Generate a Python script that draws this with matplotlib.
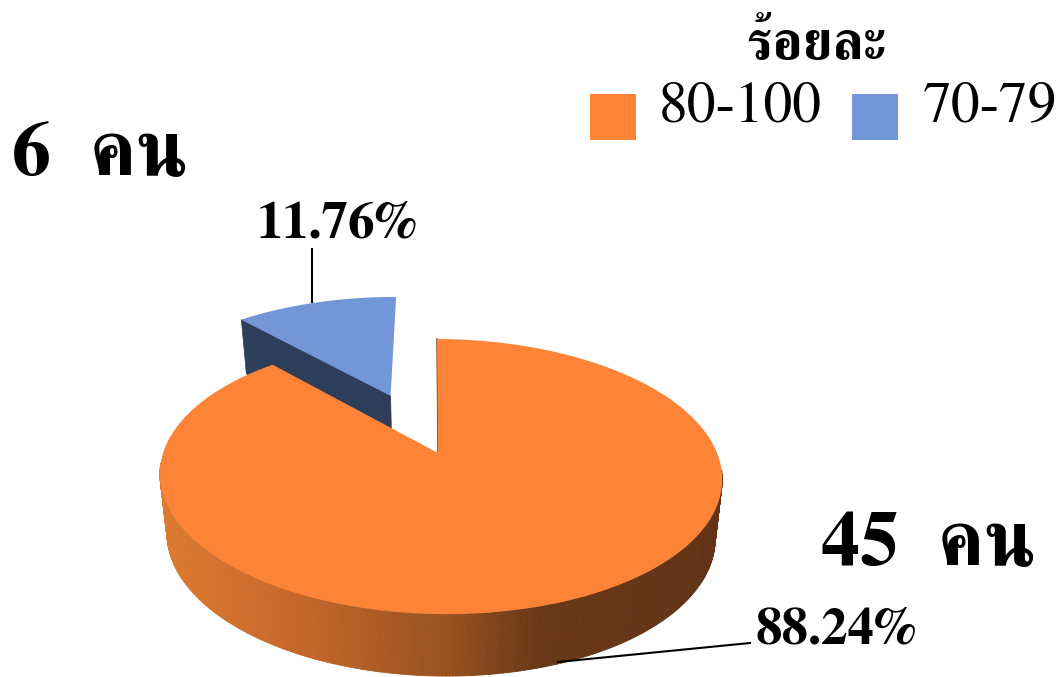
import numpy as np
import matplotlib
matplotlib.use("Agg")
import matplotlib.pyplot as plt
from matplotlib.colors import LinearSegmentedColormap

# ---- data ----
legend_title = "ร้อยละ"
categories = ["80-100", "70-79"]
counts = [45, 6]
percents = [88.24, 11.76]
count_unit = "คน"
colors_top = ["#FD8436", "#7396D8"]
wall_blue = "#2E3D5A"

serif = "FreeSerif"


def project(u, v):
    """Perspective map of the unit disc (u right, v away) to image pixels."""
    w = 1 + 0.171 * v - 0.01 * u
    x = 438 + (277 * u - 1.17 * v) / w
    y = 453 + (2 * u - 133.5 * v) / w
    return x, y


def extrude(x, y, v):
    """Lower rim of the disc for the upper rim points."""
    return 438 + (x - 441) * 0.975 + 3, y + 58.4 - 3.6 * v


fig = plt.figure(figsize=(10.6, 6.77), dpi=100)
ax = fig.add_axes([0, 0, 1, 1])
ax.set_xlim(0, 1060)
ax.set_ylim(677, 0)
ax.axis("off")

wall_cmap = LinearSegmentedColormap.from_list(
    "wall", [(0.0, "#DC7A30"), (0.25, "#C5672A"), (0.52, "#96511F"),
             (0.68, "#683818"), (1.0, "#623316")])

fractions = np.array(percents) / sum(percents)
a_main = 2 * np.pi * fractions[0]
off_u, off_v = -0.183, 0.46

# exploded blue slice
th_b = np.linspace(a_main, 2 * np.pi, 80)
ub, vb = np.sin(th_b) + off_u, np.cos(th_b) + off_v
xb, yb = project(ub, vb)
ax_, ay_ = project(off_u, off_v)
tx, ty = project(ub[0], vb[0])
bx0, by0 = extrude(tx, ty, vb[0])
bx1, by1 = extrude(ax_, ay_, off_v)
ax.fill([tx, ax_, bx1, bx0], [ty, ay_, by1, by0], color=wall_blue, lw=0.5, zorder=2)
ax.fill(np.r_[ax_, xb], np.r_[ay_, yb], color=colors_top[1], lw=0, zorder=3)

# main slice side wall with a left-to-right shade
th_m = np.linspace(0, a_main, 500)
um, vm = np.sin(th_m), np.cos(th_m)
xm, ym = project(um, vm)
xl, yl = extrude(xm, ym, vm)
for i in range(len(th_m) - 1):
    if vm[i] > -0.1:
        continue
    c = wall_cmap((xm[i] - 160) / 562)
    ax.fill([xm[i], xm[i + 1], xl[i + 1], xl[i]],
            [ym[i], ym[i + 1], yl[i + 1], yl[i]], color=c, lw=0.6, zorder=4)
x0, y0 = project(0.0, 0.0)
ax.plot([xm[0], x0], [ym[0], y0], color="#6B3A18", lw=1.0, zorder=4)
ax.fill(np.r_[x0, xm], np.r_[y0, ym], color=colors_top[0], lw=0, zorder=5)

# legend
ax.text(816, 59, legend_title, family=serif, fontsize=39, fontweight="bold",
        ha="center", va="baseline", color="black", zorder=6)
for sx, tx_, col, name in zip([590, 852], [659, 923], colors_top, categories):
    ax.fill([sx, sx + 46, sx + 46, sx], [94, 94, 140, 140], color=col, lw=0, zorder=6)
    ax.text(tx_, 121, name, family=serif, fontsize=41.5, color="black",
            ha="left", va="baseline", zorder=6)

# count labels
ax.text(12, 175, f"{counts[1]}  {count_unit}", family=serif, fontsize=56, fontweight="bold",
        ha="left", va="baseline", zorder=6)
ax.text(821, 565, f"{counts[0]}  {count_unit}", family=serif, fontsize=56, fontweight="bold",
        ha="left", va="baseline", zorder=6)

# percent labels with leader lines
ax.text(337, 238, f"{percents[1]:.2f}%", family=serif, fontsize=38, fontweight="bold",
        ha="center", va="baseline", zorder=6)
ax.plot([312, 312], [249, 302], color="black", lw=1.5, zorder=6)
ax.text(836, 644, f"{percents[0]:.2f}%", family=serif, fontsize=38, fontweight="bold",
        ha="center", va="baseline", zorder=6)
ax.plot([558, 750], [662, 643], color="black", lw=1.5, zorder=6)

fig.savefig("out.png", dpi=100)
